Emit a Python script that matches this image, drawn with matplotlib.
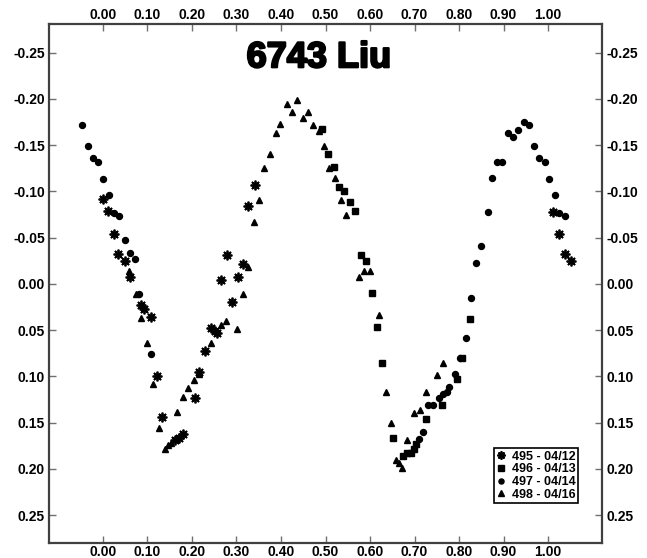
import numpy as np
import matplotlib
matplotlib.use("Agg")
import matplotlib.pyplot as plt
import matplotlib.patheffects as pe

plt.rcParams['font.family'] = ['Liberation Sans', 'DejaVu Sans']
plt.rcParams['font.weight'] = 'bold'

# phase / magnitude per session
ph_495 = [0.001, 0.012, 0.024, 0.035, 0.049, 0.061, 0.086, 0.092, 0.109, 0.122, 0.132,
          0.162, 0.171, 0.180, 0.207, 0.216, 0.230, 0.243, 0.252, 0.256, 0.266, 0.279,
          0.291, 0.303, 0.315, 0.327, 0.341, 1.012, 1.025, 1.037, 1.051]
mag_495 = [-0.092, -0.079, -0.054, -0.032, -0.025, -0.008, 0.023, 0.027, 0.036, 0.100, 0.144,
           0.169, 0.166, 0.162, 0.123, 0.095, 0.072, 0.048, 0.051, 0.053, -0.004, -0.031,
           0.019, -0.008, -0.022, -0.084, -0.107, -0.078, -0.054, -0.032, -0.025]

ph_496 = [0.493, 0.505, 0.518, 0.530, 0.542, 0.556, 0.567, 0.580, 0.591, 0.604, 0.615,
          0.628, 0.652, 0.675, 0.682, 0.691, 0.699, 0.703, 0.725, 0.762, 0.795, 0.806, 0.825]
mag_496 = [-0.168, -0.141, -0.126, -0.105, -0.101, -0.089, -0.079, -0.031, -0.025, 0.010, 0.047,
           0.085, 0.167, 0.186, 0.183, 0.183, 0.178, 0.173, 0.146, 0.131, 0.103, 0.080, 0.038]

ph_497 = [-0.046, -0.034, -0.023, -0.011, 0.001, 0.013, 0.025, 0.036, 0.050, 0.061, 0.073,
          0.082, 0.108, 0.709, 0.720, 0.731, 0.742, 0.754, 0.765, 0.772, 0.778, 0.791, 0.801,
          0.816, 0.827, 0.838, 0.850, 0.864, 0.874, 0.886, 0.897, 0.909, 0.921, 0.932, 0.946,
          0.957, 0.968, 0.979, 0.992, 1.003, 1.016, 1.025, 1.039]
mag_497 = [-0.172, -0.149, -0.136, -0.132, -0.113, -0.096, -0.077, -0.073, -0.048, -0.033, -0.027,
           0.011, 0.076, 0.168, 0.160, 0.131, 0.131, 0.123, 0.119, 0.117, 0.111, 0.097, 0.080,
           0.058, 0.015, -0.023, -0.041, -0.078, -0.115, -0.132, -0.132, -0.163, -0.159, -0.166, -0.175,
           -0.172, -0.149, -0.136, -0.132, -0.113, -0.096, -0.077, -0.073]

ph_498 = [0.059, 0.074, 0.086, 0.099, 0.112, 0.126, 0.139, 0.147, 0.152, 0.167, 0.179,
          0.192, 0.205, 0.216, 0.242, 0.265, 0.277, 0.302, 0.314, 0.326, 0.339, 0.351,
          0.362, 0.375, 0.388, 0.398, 0.413, 0.425, 0.437, 0.450, 0.461, 0.473, 0.485,
          0.497, 0.508, 0.521, 0.534, 0.545, 0.575, 0.587, 0.599, 0.621, 0.636, 0.648,
          0.658, 0.666, 0.672, 0.683, 0.699, 0.712, 0.726, 0.751, 0.763]
mag_498 = [-0.014, 0.011, 0.037, 0.064, 0.108, 0.156, 0.178, 0.174, 0.172, 0.138, 0.122,
           0.112, 0.104, 0.097, 0.064, 0.044, 0.040, 0.049, 0.011, -0.018, -0.067, -0.091,
           -0.125, -0.141, -0.163, -0.173, -0.195, -0.186, -0.199, -0.179, -0.186, -0.172, -0.165,
           -0.149, -0.125, -0.114, -0.091, -0.075, -0.007, -0.014, -0.014, 0.034, 0.117, 0.150,
           0.190, 0.193, 0.199, 0.169, 0.139, 0.136, 0.117, 0.098, 0.085]

labels = ['495 - 04/12', '496 - 04/13', '497 - 04/14', '498 - 04/16']
x_ticks = [0.0, 0.1, 0.2, 0.3, 0.4, 0.5, 0.6, 0.7, 0.8, 0.9, 1.0]
y_ticks = [-0.25, -0.20, -0.15, -0.10, -0.05, 0.0, 0.05, 0.10, 0.15, 0.20, 0.25]

fig = plt.figure(figsize=(6.47, 5.58), dpi=100)
ax = fig.add_axes([49/647, 15/558, 553/647, 519/558])

ax.plot(ph_495, mag_495, ls='none', marker=(8, 2, 0), ms=7, mew=1.3, color='black', label=labels[0])
ax.plot(ph_496, mag_496, ls='none', marker='s', ms=5, color='black', label=labels[1])
ax.plot(ph_497, mag_497, ls='none', marker='o', ms=4.3, color='black', label=labels[2])
ax.plot(ph_498, mag_498, ls='none', marker='^', ms=5, color='black', label=labels[3])

ax.set_xlim(-0.121, 1.121)
ax.set_ylim(0.280, -0.281)
ax.set_xticks(x_ticks)
ax.set_yticks(y_ticks)
ax.xaxis.set_major_formatter(plt.FormatStrFormatter('%.2f'))
ax.yaxis.set_major_formatter(plt.FormatStrFormatter('%.2f'))
ax.tick_params(direction='in', length=5, width=1, color='#707070', labelsize=10,
               top=True, right=True, labeltop=True, labelright=True)
ax.tick_params(axis='x', pad=1.5)
ax.tick_params(axis='y', pad=3)
for sp in ax.spines.values():
    sp.set_linewidth(1.6)
    sp.set_color('#404040')

ax.text(0.488, 0.935, '6743 Liu', transform=ax.transAxes, ha='center', va='center',
        fontsize=26, fontweight='heavy',
        path_effects=[pe.withStroke(linewidth=1.6, foreground='black')])

leg = ax.legend(loc='lower right', bbox_to_anchor=(0.957, 0.077), fontsize=9,
                frameon=True, fancybox=False, framealpha=1, edgecolor='black',
                handlelength=0.7, handletextpad=0.5, borderpad=0.2, labelspacing=0.05,
                borderaxespad=0, markerscale=0.85)
leg.get_frame().set_linewidth(1.2)

fig.savefig('out.png', dpi=100)
